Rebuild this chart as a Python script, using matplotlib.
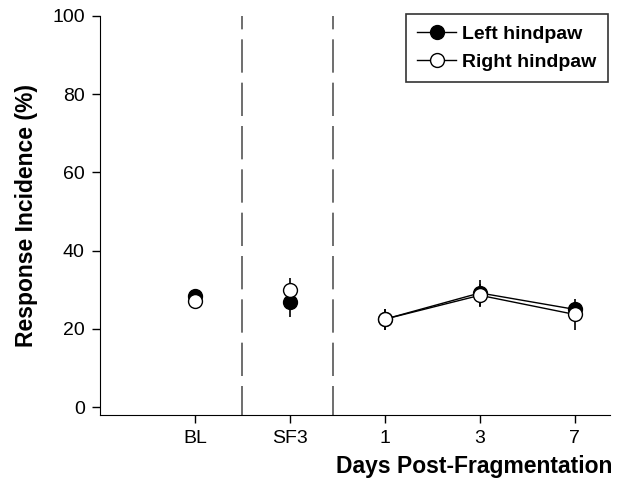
import numpy as np
import matplotlib
matplotlib.use("Agg")
import matplotlib.pyplot as plt
from matplotlib.lines import Line2D

plt.rcParams['font.family'] = ['Liberation Sans', 'DejaVu Sans']

categories = ["BL", "SF3", "1", "3", "7"]
left_mean = [28.5, 27.0, 22.5, 29.2, 25.0]
left_err = [1.0, 4.0, 2.7, 3.3, 2.0]
right_mean = [27.2, 30.0, 22.5, 28.6, 23.7]
right_err = [1.0, 3.0, 2.7, 3.0, 4.0]
divider_positions = [0.5, 1.45]

x = np.arange(len(categories))

fig = plt.figure(figsize=(6.17, 4.83), dpi=100)
ax = fig.add_axes([100 / 617, 1 - 415 / 483, 510 / 617, 399 / 483])

for xd in divider_positions:
    ax.plot([xd, xd], [100, -2], color="#555555", lw=1.2, linestyle=(12, (20, 6)), zorder=1)

mk = dict(marker="o", markersize=10, markeredgecolor="black", markeredgewidth=1.0)

ax.errorbar(x, left_mean, yerr=left_err, fmt="none", ecolor="black", elinewidth=1.2, capsize=0, zorder=2)
ax.errorbar(x, right_mean, yerr=right_err, fmt="none", ecolor="black", elinewidth=1.2, capsize=0, zorder=2)

# lines only join the post-fragmentation days
ax.plot(x[2:], left_mean[2:], color="black", lw=1.0, zorder=3)
ax.plot(x[2:], right_mean[2:], color="black", lw=1.0, zorder=3)

ax.plot(x, left_mean, linestyle="none", markerfacecolor="black", zorder=4, **mk)
ax.plot(x, right_mean, linestyle="none", markerfacecolor="white", zorder=5, **mk)

ax.set_xlim(-1.0, 4.37)
ax.set_ylim(-2, 100)
ax.set_yticks([0, 20, 40, 60, 80, 100])
ax.set_xticks(x)
ax.set_xticklabels(categories)
ax.spines["top"].set_visible(False)
ax.spines["right"].set_visible(False)
ax.tick_params(axis="both", direction="out", length=6, width=1, labelsize=14, pad=5)

ax.set_ylabel("Response Incidence (%)", fontsize=16.5, fontweight="bold", labelpad=10)
fig.text(612 / 617, 1 - 467 / 483, "Days Post-Fragmentation", fontsize=16.5, fontweight="bold",
         ha="right", va="center")

handles = [
    Line2D([], [], color="black", lw=1.0, marker="o", markersize=10, markerfacecolor="black", markeredgecolor="black"),
    Line2D([], [], color="black", lw=1.0, marker="o", markersize=10, markerfacecolor="white", markeredgecolor="black"),
]
leg = ax.legend(handles, ["Left hindpaw", "Right hindpaw"], loc="upper right",
                bbox_to_anchor=(0.996, 1.005), borderaxespad=0, frameon=True, fancybox=False,
                edgecolor="black", prop={"weight": "bold", "size": 14}, handlelength=2.0,
                handletextpad=0.3, borderpad=0.6, labelspacing=0.5)
leg.get_frame().set_linewidth(1.2)

fig.savefig("out.png", dpi=100)
